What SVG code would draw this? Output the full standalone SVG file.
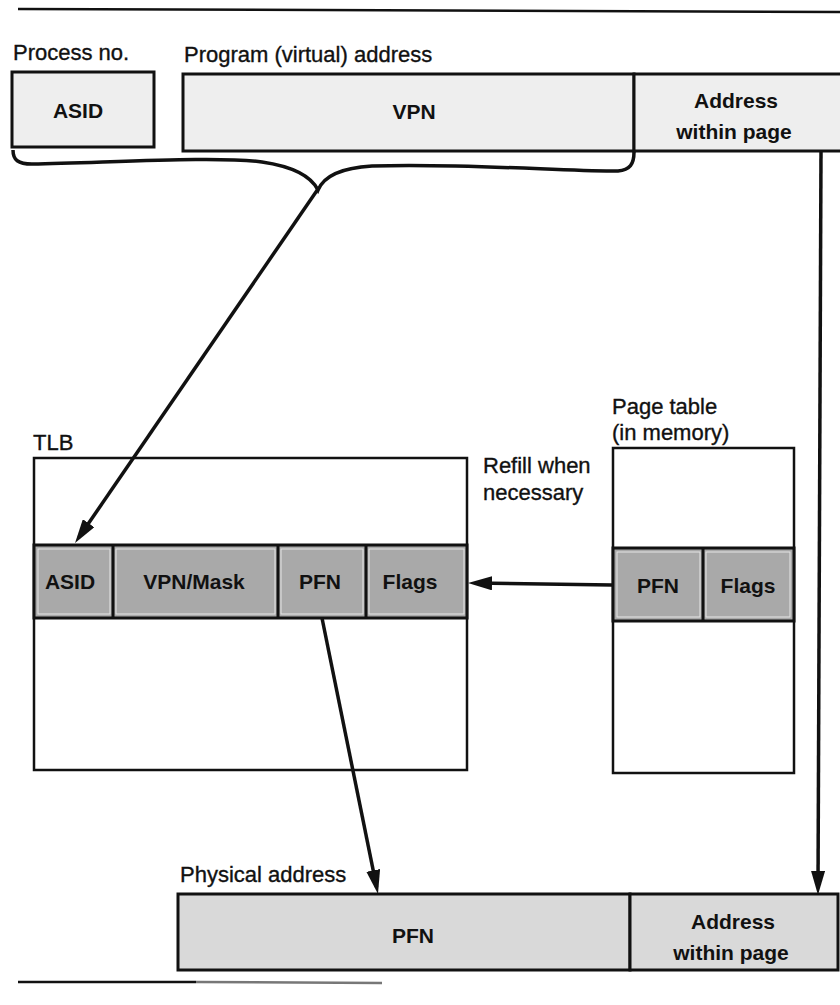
<svg xmlns="http://www.w3.org/2000/svg" width="840" height="1005" viewBox="0 0 840 1005">
  <style>
    .cap { font-family: "Liberation Sans", Arial, sans-serif; font-size: 22px; fill: #111; stroke: #111; stroke-width: 0.35; }
    .lbl { font-family: "Liberation Sans", Arial, sans-serif; font-size: 21px; font-weight: bold; fill: #111; text-anchor: middle; }
    .box { stroke: #111; stroke-width: 3; }
    .frame { fill: #fff; stroke: #111; stroke-width: 2.5; }
    .light { fill: #eeeeee; }
    .mid { fill: #d9d9d9; }
    .dark { fill: #a9a9a9; }
    .inner { fill: none; stroke: #e6e6e6; stroke-width: 1; }
    .wire { fill: none; stroke: #111; stroke-width: 3.5; }
    .rule { fill: none; stroke: #111; stroke-width: 2.5; }
  </style>
  <defs>
    <marker id="ah" viewBox="0 0 24 14" refX="17" refY="7" markerWidth="24" markerHeight="14" markerUnits="userSpaceOnUse" orient="auto">
      <path d="M0,0 L24,7 L0,14 z" fill="#111"/>
    </marker>
  </defs>

  <!-- page rules -->
  <path class="rule" d="M18,9 L840,12"/>
  <path class="rule" d="M18,982 L196,982"/>
  <path d="M196,982 L382,983" fill="none" stroke="#777" stroke-width="2.5"/>

  <!-- virtual address -->
  <g id="process-no">
    <text class="cap" x="13" y="60">Process no.</text>
    <rect class="box light" x="12" y="72" width="142" height="75"/>
    <text class="lbl" x="78" y="118">ASID</text>
  </g>
  <g id="virtual-address">
    <text class="cap" x="184" y="62">Program (virtual) address</text>
    <rect class="box light" x="183" y="74" width="451" height="77"/>
    <text class="lbl" x="414" y="119">VPN</text>
    <rect class="box light" x="634" y="74" width="210" height="77"/>
    <text class="lbl" x="736" y="108">Address</text>
    <text class="lbl" x="734" y="139">within page</text>
  </g>

  <!-- TLB -->
  <g id="tlb">
    <text class="cap" x="33" y="450">TLB</text>
    <rect class="frame" x="34" y="458" width="433" height="312"/>
    <rect class="box dark" x="34" y="545" width="433" height="73"/>
    <rect class="inner" x="38" y="549" width="72" height="65"/>
    <rect class="inner" x="116" y="549" width="159" height="65"/>
    <rect class="inner" x="281" y="549" width="82" height="65"/>
    <rect class="inner" x="369" y="549" width="95" height="65"/>
    <path d="M113,545 V618 M278,545 V618 M366,545 V618" stroke="#111" stroke-width="3"/>
    <text class="lbl" x="70" y="589">ASID</text>
    <text class="lbl" x="194" y="589">VPN/Mask</text>
    <text class="lbl" x="320" y="589">PFN</text>
    <text class="lbl" x="410" y="589">Flags</text>
  </g>

  <!-- page table -->
  <g id="page-table">
    <text class="cap" x="612" y="414">Page table</text>
    <text class="cap" x="612" y="440">(in memory)</text>
    <rect class="frame" x="613" y="448" width="181" height="325"/>
    <rect class="box dark" x="613" y="548" width="181" height="73"/>
    <rect class="inner" x="617" y="552" width="83" height="65"/>
    <rect class="inner" x="706" y="552" width="84" height="65"/>
    <path d="M703,548 V621" stroke="#111" stroke-width="3"/>
    <text class="lbl" x="658" y="593">PFN</text>
    <text class="lbl" x="748" y="593">Flags</text>
  </g>

  <g id="refill-label">
    <text class="cap" x="483" y="473">Refill when</text>
    <text class="cap" x="483" y="500">necessary</text>
  </g>

  <!-- physical address -->
  <g id="physical-address">
    <text class="cap" x="180" y="882">Physical address</text>
    <rect class="box mid" x="178" y="894" width="452" height="76"/>
    <text class="lbl" x="413" y="943">PFN</text>
    <rect class="box mid" x="630" y="894" width="208" height="76"/>
    <text class="lbl" x="733" y="929">Address</text>
    <text class="lbl" x="731" y="960">within page</text>
  </g>

  <!-- connectors -->
  <g id="connectors">
    <path id="brace" class="wire" d="M13,150 C13,160 18,164 32,164 C120,162 220,156 262,162 C296,167 312,178 318,190 C324,176 340,168 372,166 C470,163 570,172 618,171 C630,170 634,164 634,152"/>
    <path class="wire" d="M318,189 L79,537.2" marker-end="url(#ah)"/>
    <path class="wire" d="M612,585 L475,583.1" marker-end="url(#ah)"/>
    <path class="wire" d="M322,618 L376.6,887.1" marker-end="url(#ah)"/>
    <path class="wire" d="M821,151 L818,888" marker-end="url(#ah)"/>
  </g>
</svg>
